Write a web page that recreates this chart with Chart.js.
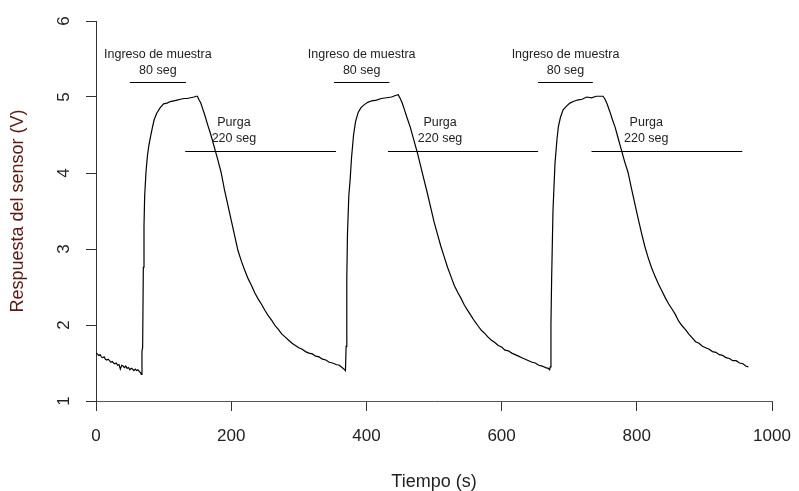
<!DOCTYPE html>
<html lang="es">
<head>
<meta charset="utf-8">
<title>Respuesta del sensor</title>
<script src="https://cdn.jsdelivr.net/npm/chart.js@4.4.0/dist/chart.umd.min.js"></script>
<style>
    html, body { margin: 0; padding: 0; background: #fff; }
    #contenedor { width: 799px; height: 491px; position: relative; }
</style>
</head>
<body>
<div id="contenedor">
    <canvas id="sensorChart"></canvas>
</div>
<script>
// Ciclo 1: línea base, ingreso de muestra y purga
const tiempo1 = [0, 2, 4, 6, 8, 10, 12, 14, 16, 18, 20, 22, 24, 26, 28, 30, 32, 34, 36, 38, 40, 42, 44, 46, 48, 50, 52, 54, 56, 58, 60, 62, 64, 66, 67,
    68, 69, 70, 71, 72, 74, 76, 78, 80, 83, 86, 90, 95, 100, 105, 110, 115, 120, 125, 130, 135, 140, 145, 148, 150,
    152, 155, 158, 161, 165, 170, 175, 180, 185, 190, 195, 200, 205, 210, 215, 220, 225, 230, 235, 240, 245, 250, 255, 260,
    265, 270, 275, 280, 285, 290, 295, 300, 305, 310, 315, 320, 325, 330, 335, 340, 345, 350, 355, 360, 364, 368];
const voltaje1 = [1.63, 1.62, 1.60, 1.61, 1.58, 1.57, 1.58, 1.55, 1.54, 1.55, 1.53, 1.51, 1.52, 1.50, 1.49, 1.50, 1.47, 1.48, 1.42, 1.47, 1.46, 1.44, 1.46, 1.43, 1.44, 1.41, 1.43, 1.42, 1.40, 1.42, 1.40, 1.41, 1.39, 1.37, 1.35,
    1.66, 1.70, 2.76, 3.30, 3.70, 4.02, 4.22, 4.35, 4.45, 4.58, 4.70, 4.79, 4.86, 4.91, 4.92, 4.94, 4.95, 4.96, 4.97, 4.98, 4.98, 4.99, 5.00, 5.01, 5.01,
    4.97, 4.92, 4.84, 4.76, 4.64, 4.50, 4.34, 4.18, 4.01, 3.78, 3.58, 3.38, 3.18, 2.98, 2.84, 2.72, 2.61, 2.52, 2.42, 2.34, 2.27, 2.19, 2.12, 2.06,
    1.99, 1.94, 1.88, 1.84, 1.80, 1.76, 1.73, 1.70, 1.68, 1.65, 1.63, 1.62, 1.59, 1.58, 1.55, 1.54, 1.51, 1.50, 1.48, 1.47, 1.44, 1.41];

// Ciclo 2
const tiempo2 = [369, 370, 371, 372, 374, 376, 378, 381, 384, 388, 392, 397, 402, 408, 415, 422, 430, 437, 443, 447,
    450, 453, 456, 460, 465, 470, 475, 480, 485, 490, 495, 500, 505, 510, 515, 520, 525, 530, 535, 540, 545, 550, 555, 560,
    565, 570, 575, 580, 585, 590, 595, 600, 605, 610, 615, 620, 625, 630, 635, 640, 645, 650, 655, 660, 665, 669, 671];
const voltaje2 = [1.40, 1.72, 2.60, 3.20, 3.70, 3.92, 4.20, 4.50, 4.68, 4.80, 4.86, 4.90, 4.93, 4.95, 4.96, 4.98, 4.99, 5.00, 5.02, 5.03,
    4.98, 4.92, 4.84, 4.73, 4.60, 4.44, 4.28, 4.10, 3.92, 3.74, 3.55, 3.36, 3.20, 3.04, 2.90, 2.76, 2.64, 2.52, 2.43, 2.35, 2.26, 2.19, 2.12, 2.05,
    1.99, 1.93, 1.89, 1.84, 1.80, 1.77, 1.73, 1.71, 1.67, 1.66, 1.63, 1.61, 1.59, 1.57, 1.55, 1.53, 1.51, 1.50, 1.47, 1.46, 1.44, 1.43, 1.41];

// Ciclo 3
const tiempo3 = [672, 673, 674, 676, 679, 682, 684, 687, 691, 696, 701, 706, 712, 719, 726, 733, 740, 746, 750,
    753, 756, 760, 764, 768, 772, 777, 782, 787, 792, 797, 802, 807, 812, 817, 822, 827, 832, 837, 842, 847, 852, 857, 862,
    867, 872, 877, 882, 887, 892, 897, 902, 907, 912, 917, 922, 927, 932, 937, 942, 947, 952, 957, 961, 965];
const voltaje3 = [1.45, 2.00, 2.60, 3.50, 4.13, 4.45, 4.61, 4.73, 4.83, 4.88, 4.92, 4.94, 4.96, 4.97, 5.00, 4.99, 5.01, 5.01, 5.01,
    4.97, 4.91, 4.81, 4.70, 4.60, 4.47, 4.31, 4.15, 4.01, 3.80, 3.60, 3.40, 3.21, 3.03, 2.88, 2.75, 2.64, 2.54, 2.45, 2.36, 2.28, 2.21, 2.14, 2.05,
    1.99, 1.94, 1.88, 1.83, 1.78, 1.76, 1.72, 1.70, 1.68, 1.65, 1.64, 1.61, 1.60, 1.57, 1.56, 1.53, 1.53, 1.50, 1.49, 1.46, 1.45];

// Marcas de ingreso de muestra (80 seg) y purga (220 seg)
const ingresoInicio = [50, 352, 654];
const ingresoFin = [133, 434, 735];
const purgaInicio = [132, 432, 733];
const purgaFin = [355, 654, 956];
const purgaTexto = [204, 509, 814];
const nivelIngreso = 5.2;
const nivelPurga = 4.29;

const ticksX = [0, 200, 400, 600, 800, 1000];
const ticksY = [1, 2, 3, 4, 5, 6];

const tiempos = tiempo1.concat(tiempo2, tiempo3);
const voltajes = voltaje1.concat(voltaje2, voltaje3);
const puntos = tiempos.map((t, i) => ({ x: t, y: voltajes[i] }));

Chart.defaults.font.family = "'Liberation Sans', Arial, sans-serif";

const anotaciones = {
    id: 'anotaciones',
    afterDatasetsDraw(chart) {
        const { ctx, scales: { x, y } } = chart;
        ctx.save();
        ctx.strokeStyle = '#000';
        ctx.lineWidth = 1;
        ctx.fillStyle = '#222';
        ctx.font = "12.5px 'Liberation Sans', Arial, sans-serif";
        ctx.textAlign = 'center';
        ctx.textBaseline = 'middle';

        const linea = (x0, x1, v) => {
            const py = Math.round(y.getPixelForValue(v)) + 0.5;
            ctx.beginPath();
            ctx.moveTo(x.getPixelForValue(x0), py);
            ctx.lineTo(x.getPixelForValue(x1), py);
            ctx.stroke();
        };

        for (let i = 0; i < ingresoInicio.length; i++) {
            linea(ingresoInicio[i], ingresoFin[i], nivelIngreso);
            const cx = x.getPixelForValue((ingresoInicio[i] + ingresoFin[i]) / 2);
            ctx.fillText('Ingreso de muestra', cx, y.getPixelForValue(5.555));
            ctx.fillText('80 seg', cx, y.getPixelForValue(5.35));

            linea(purgaInicio[i], purgaFin[i], nivelPurga);
            const px = x.getPixelForValue(purgaTexto[i]);
            ctx.fillText('Purga', px, y.getPixelForValue(4.665));
            ctx.fillText('220 seg', px, y.getPixelForValue(4.455));
        }
        ctx.restore();
    }
};

const canvas = document.getElementById('sensorChart');
new Chart(canvas.getContext('2d'), {
    type: 'line',
    data: {
        datasets: [{
            label: 'Respuesta',
            data: puntos,
            borderColor: '#000',
            borderWidth: 1.2,
            pointRadius: 0,
            tension: 0,
            fill: false
        }]
    },
    options: {
        responsive: true,
        maintainAspectRatio: false,
        animation: false,
        layout: { padding: { top: 21, right: 27, left: 0, bottom: 0 } },
        plugins: {
            legend: { display: false },
            tooltip: { enabled: false }
        },
        scales: {
            x: {
                type: 'linear',
                min: 0,
                max: 1000,
                afterBuildTicks: (scale) => { scale.ticks = ticksX.map(v => ({ value: v })); },
                afterFit: (scale) => {
                    scale.height = 90;
                    scale.paddingLeft = 0;
                    scale.paddingRight = 0;
                },
                ticks: {
                    color: '#222',
                    font: { size: 17 },
                    padding: 15,
                    maxRotation: 0,
                    callback: (v) => String(v)
                },
                grid: {
                    drawOnChartArea: false,
                    drawTicks: true,
                    tickLength: 10,
                    color: '#333'
                },
                border: { display: true, color: '#555', width: 1 },
                title: {
                    display: true,
                    text: 'Tiempo (s)',
                    color: '#222',
                    font: { size: 18, lineHeight: 1 },
                    padding: { top: 0, bottom: 0 }
                }
            },
            y: {
                min: 1,
                max: 6,
                afterBuildTicks: (scale) => { scale.ticks = ticksY.map(v => ({ value: v })); },
                afterFit: (scale) => {
                    scale.width = 96;
                    scale.paddingTop = 0;
                    scale.paddingBottom = 0;
                },
                ticks: {
                    color: '#222',
                    font: { size: 17 },
                    padding: 17,
                    minRotation: 90,
                    maxRotation: 90,
                    crossAlign: 'center',
                    callback: (v) => String(v)
                },
                grid: {
                    drawOnChartArea: false,
                    drawTicks: true,
                    tickLength: 10,
                    color: '#333'
                },
                border: { display: true, color: '#333', width: 1 },
                title: {
                    display: true,
                    text: 'Respuesta del sensor (V)',
                    color: '#5a1a12',
                    font: { size: 18, lineHeight: 1 },
                    padding: { top: 9.5, bottom: 0 }
                }
            }
        }
    },
    plugins: [anotaciones]
});
</script>
</body>
</html>
